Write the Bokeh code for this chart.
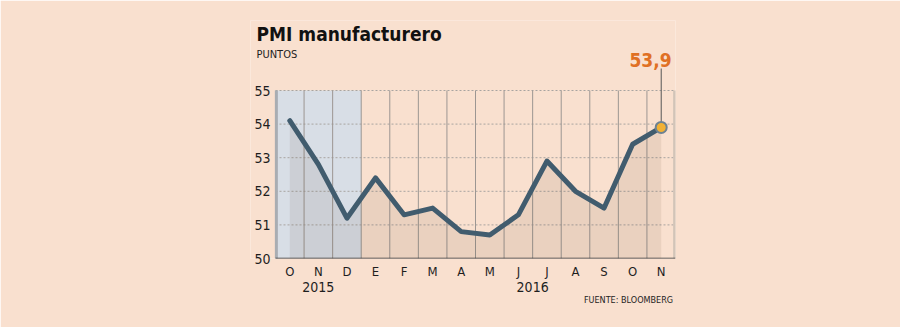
from bokeh.plotting import figure
from bokeh.models import Label, Range1d, FixedTicker, BoxAnnotation, LinearAxis
from bokeh.embed import file_html
from bokeh.resources import INLINE

# ---- data ----
months = ["O", "N", "D", "E", "F", "M", "A", "M", "J", "J", "A", "S", "O", "N"]
pmi = [54.1, 52.8, 51.2, 52.4, 51.3, 51.5, 50.8, 50.7, 51.3, 52.9, 52.0, 51.5, 53.4, 53.9]
y_ticks = [50, 51, 52, 53, 54, 55]
years = ["2015", "2016"]
year_centers = [1, 8.5]
shade_end = 2.5  # end of 2015 block
last_label = "53,9"
source_text = "FUENTE: BLOOMBERG"

# ---- layout: plot box x 275..675 (months), value 50 at y=258, 55 at y=90 ----
BL, BR = 275, 675          # plot box
FL, FR, FT, FB = 250, 675, 20, 258   # bokeh frame (extended for texts)
PY55 = 90
n = len(months)
xs = list(range(n))
x0, x1 = -0.5, n - 0.5
y0, y55 = y_ticks[0], y_ticks[-1]
def dx(px):
    return x0 + (px - BL) * (x1 - x0) / (BR - BL)
def dy(py):
    return y0 + (FB - py) * (y55 - y0) / (FB - PY55)

BG = "#F9E0CF"
FONT = "DejaVu Sans Condensed"
TXT = "#1E1E1E"

p = figure(width=900, height=327, output_backend="svg", toolbar_location=None,
           x_range=Range1d(dx(FL), x1), y_range=Range1d(y0, dy(FT)),
           min_border_left=FL, min_border_right=900 - FR,
           min_border_top=FT, min_border_bottom=327 - FB,
           background_fill_color=BG, border_fill_color=BG, outline_line_color=None)

# 2015 block
p.add_layout(BoxAnnotation(left=x0, right=shade_end, bottom=y0, top=y55, fill_color="#D8DEE6",
                           fill_alpha=1.0, line_color=None, level="image"))

# horizontal dashed grid (limited to the plot box)
gy = y_ticks[1:]
p.segment(x0=[x0] * len(gy), y0=gy, x1=[x1] * len(gy), y1=gy,
          line_color="#A8A4A0", line_dash="2 2", line_width=1)
p.xgrid.visible = False
p.ygrid.visible = False

# vertical month separators
bounds = [i + 0.5 for i in range(n - 1)]
p.segment(x0=bounds, y0=[y0] * len(bounds), x1=bounds, y1=[y55] * len(bounds),
          line_color="#9C9692", line_width=1)
# plot box side borders
p.segment(x0=[x0 + 0.03], y0=[y0], x1=[x0 + 0.03], y1=[y55], line_color="#A9ADB2", line_width=3)
p.segment(x0=[x1 - 0.03], y0=[y0], x1=[x1 - 0.03], y1=[y55], line_color="#D2C4B8", line_width=3)

# area + line
p.varea(x=xs, y1=[y0] * n, y2=pmi, fill_color="#3A2010", fill_alpha=0.08)
p.line(xs, pmi, line_color="#415C6E", line_width=5, line_join="round", line_cap="round")

# baseline (x axis line)
p.segment(x0=[x0], y0=[y0], x1=[x1], y1=[y0], line_color="#333333", line_width=1.5)

# leader and marker
p.segment(x0=[xs[-1]], y0=[pmi[-1]], x1=[xs[-1]], y1=[dy(68)], line_color="#555555", line_width=1)
p.scatter([xs[-1]], [pmi[-1]], size=11, fill_color="#F2B134", line_color="#6E8292", line_width=2)

# y axis (labels pulled right, next to the plot box)
p.yaxis.ticker = FixedTicker(ticks=y_ticks)
p.yaxis.axis_line_color = None
p.yaxis.major_tick_line_color = None
p.yaxis.major_tick_out = 0
p.yaxis.major_tick_in = 0
p.yaxis.minor_tick_line_color = None
p.yaxis.major_label_text_font = FONT
p.yaxis.major_label_text_font_size = "14px"
p.yaxis.major_label_text_color = TXT
p.yaxis.major_label_standoff = -(BL - FL - 5)

# x axis (months)
p.xaxis.ticker = FixedTicker(ticks=xs)
p.xaxis.major_label_overrides = {i: m for i, m in enumerate(months)}
p.xaxis.axis_line_color = None
p.xaxis.major_tick_line_color = None
p.xaxis.major_tick_out = 0
p.xaxis.major_tick_in = 0
p.xaxis.minor_tick_line_color = None
p.xaxis.major_label_text_font = FONT
p.xaxis.major_label_text_font_size = "13px"
p.xaxis.major_label_text_color = TXT
p.xaxis.major_label_standoff = 5

# year axis
yax = LinearAxis(ticker=FixedTicker(ticks=year_centers),
                 major_label_overrides={c: yr for c, yr in zip(year_centers, years)},
                 axis_line_color=None, major_tick_line_color=None, minor_tick_line_color=None,
                 major_tick_out=0, major_tick_in=0, major_label_standoff=0,
                 major_label_text_font=FONT, major_label_text_font_size="14px",
                 major_label_text_color=TXT)
p.add_layout(yax, "below")
# source axis
src_pos = dx(628)
sax = LinearAxis(ticker=FixedTicker(ticks=[src_pos]),
                 major_label_overrides={src_pos: source_text},
                 axis_line_color=None, major_tick_line_color=None, minor_tick_line_color=None,
                 major_tick_out=0, major_tick_in=0, major_label_standoff=0,
                 major_label_text_font=FONT, major_label_text_font_size="9px",
                 major_label_text_color=TXT)
p.add_layout(sax, "below")

# texts inside the (extended) frame
p.add_layout(Label(x=dx(256), y=dy(44), text="PMI manufacturero", text_font=FONT,
                   text_font_style="bold", text_font_size="19px", text_color="#111111"))
p.add_layout(Label(x=dx(256), y=dy(60), text="PUNTOS", text_font=FONT,
                   text_font_size="11px", text_color=TXT))
p.add_layout(Label(x=dx(650), y=dy(66), text=last_label, text_font=FONT, text_align="center",
                   text_font_style="bold", text_font_size="19px", text_color="#E07024"))

open("out.html", "w").write(file_html(p, INLINE))
